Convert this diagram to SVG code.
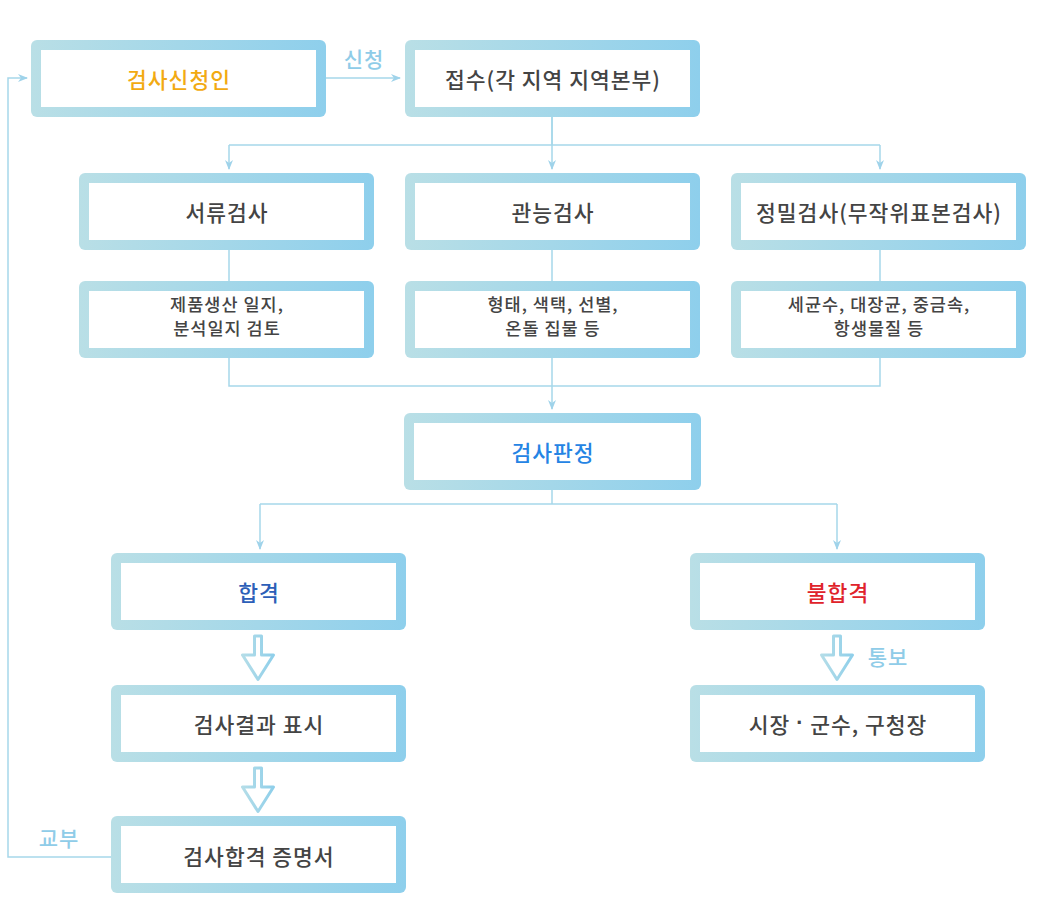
<svg xmlns="http://www.w3.org/2000/svg" width="1050" height="912" viewBox="0 0 1050 912">
<defs>
<linearGradient id="g" x1="0" y1="0" x2="1" y2="0">
<stop offset="0" stop-color="#b9dfe6"/>
<stop offset="1" stop-color="#8ecfec"/>
</linearGradient>
<linearGradient id="ga" x1="0" y1="0" x2="1" y2="0">
<stop offset="0" stop-color="#b4dde8"/>
<stop offset="1" stop-color="#8fcfea"/>
</linearGradient>
<marker id="ah" viewBox="0 0 10 10" refX="9" refY="5" markerWidth="10" markerHeight="10" markerUnits="userSpaceOnUse" orient="auto">
<path d="M0,1 L10,5 L0,9 L3,5 Z" fill="#9fd3ea"/>
</marker>
<style>
.ob{fill:url(#g)}
.ib{fill:#fff}
.t{font-family:"Noto Sans CJK KR","Noto Sans",sans-serif;font-size:21.5px;font-weight:500;fill:#444;text-anchor:middle;dominant-baseline:central;letter-spacing:1px}
.s{font-family:"Noto Sans CJK KR","Noto Sans",sans-serif;font-size:17.5px;font-weight:500;fill:#444;text-anchor:middle;letter-spacing:1px}
.lb{font-family:"Noto Sans CJK KR","Noto Sans",sans-serif;font-size:21px;font-weight:500;fill:#8fcce8;text-anchor:middle;dominant-baseline:central;letter-spacing:1px}
.c{fill:none;stroke:#a6d7ea;stroke-width:1.5}
.ha{fill:#fff;stroke:url(#ga);stroke-width:3;stroke-linejoin:round}
.dot{font-family:"Liberation Sans",sans-serif;font-weight:700}
</style>
</defs>

<g id="connectors">
<path class="c" d="M326,78 H400" marker-end="url(#ah)"/>
<path class="c" d="M552,117 V145 M229,145 H880"/>
<path class="c" d="M229,145 V169" marker-end="url(#ah)"/>
<path class="c" d="M552,117 V169" marker-end="url(#ah)"/>
<path class="c" d="M880,145 V169" marker-end="url(#ah)"/>
<path class="c" d="M229,250 V281 M552,250 V281 M880,250 V281"/>
<path class="c" d="M229,358 V386 H880 V358"/>
<path class="c" d="M552,358 V409" marker-end="url(#ah)"/>
<path class="c" d="M552,490 V504 M260,504 H837"/>
<path class="c" d="M260,504 V549" marker-end="url(#ah)"/>
<path class="c" d="M837,504 V549" marker-end="url(#ah)"/>
<path class="c" d="M111,857 H8 V78 H27" marker-end="url(#ah)"/>
<path class="ha" d="M254.5,636 H261.5 V655 H273.5 L258,679.5 L242.5,655 H254.5 Z"/>
<path class="ha" d="M254.5,768 H261.5 V787 H273.5 L258,811.5 L242.5,787 H254.5 Z"/>
<path class="ha" d="M833.5,636 H840.5 V655 H852.5 L837,679.5 L821.5,655 H833.5 Z"/>
<text class="lb" x="364" y="58">신청</text>
<text class="lb" x="888" y="656">통보</text>
<text class="lb" x="59" y="837">교부</text>
</g>

<g id="n-applicant">
<rect class="ob" x="31" y="40" width="295" height="77" rx="6"/>
<rect class="ib" x="41" y="50" width="275" height="57"/>
<text class="t" x="179" y="78" style="fill:#f2aa12">검사신청인</text>
</g>
<g id="n-receipt">
<rect class="ob" x="405" y="40" width="295" height="77" rx="6"/>
<rect class="ib" x="415" y="50" width="275" height="57"/>
<text class="t" x="553" y="78">접수(각 지역 지역본부)</text>
</g>
<g id="n-doc">
<rect class="ob" x="79" y="173" width="295" height="77" rx="6"/>
<rect class="ib" x="89" y="183" width="275" height="57"/>
<text class="t" x="227" y="211">서류검사</text>
</g>
<g id="n-sensory">
<rect class="ob" x="405" y="173" width="295" height="77" rx="6"/>
<rect class="ib" x="415" y="183" width="275" height="57"/>
<text class="t" x="553" y="211">관능검사</text>
</g>
<g id="n-precise">
<rect class="ob" x="731" y="173" width="295" height="77" rx="6"/>
<rect class="ib" x="741" y="183" width="275" height="57"/>
<text class="t" x="879" y="211">정밀검사(무작위표본검사)</text>
</g>
<g id="n-doc-sub">
<rect class="ob" x="79" y="281" width="295" height="77" rx="6"/>
<rect class="ib" x="89" y="291" width="275" height="57"/>
<text class="s" x="227" y="311">제품생산 일지,</text>
<text class="s" x="227" y="335">분석일지 검토</text>
</g>
<g id="n-sensory-sub">
<rect class="ob" x="405" y="281" width="295" height="77" rx="6"/>
<rect class="ib" x="415" y="291" width="275" height="57"/>
<text class="s" x="553" y="311">형태, 색택, 선별,</text>
<text class="s" x="553" y="335">온돌 집물 등</text>
</g>
<g id="n-precise-sub">
<rect class="ob" x="731" y="281" width="295" height="77" rx="6"/>
<rect class="ib" x="741" y="291" width="275" height="57"/>
<text class="s" x="879" y="311">세균수, 대장균, 중금속,</text>
<text class="s" x="879" y="335">항생물질 등</text>
</g>
<g id="n-judge">
<rect class="ob" x="404" y="413" width="297" height="77" rx="6"/>
<rect class="ib" x="414" y="423" width="277" height="57"/>
<text class="t" x="553" y="451" style="fill:#2584e4">검사판정</text>
</g>
<g id="n-pass">
<rect class="ob" x="111" y="553" width="295" height="77" rx="6"/>
<rect class="ib" x="121" y="563" width="275" height="57"/>
<text class="t" x="259" y="591" style="fill:#2d5fb8">합격</text>
</g>
<g id="n-fail">
<rect class="ob" x="690" y="553" width="295" height="77" rx="6"/>
<rect class="ib" x="700" y="563" width="275" height="57"/>
<text class="t" x="838" y="591" style="fill:#e0232b">불합격</text>
</g>
<g id="n-mark">
<rect class="ob" x="111" y="685" width="295" height="77" rx="6"/>
<rect class="ib" x="121" y="695" width="275" height="57"/>
<text class="t" x="259" y="723">검사결과 표시</text>
</g>
<g id="n-mayor">
<rect class="ob" x="690" y="685" width="295" height="77" rx="6"/>
<rect class="ib" x="700" y="695" width="275" height="57"/>
<text class="t" x="838" y="723">시장 <tspan class="dot">·</tspan> 군수, 구청장</text>
</g>
<g id="n-cert">
<rect class="ob" x="111" y="816" width="295" height="77" rx="6"/>
<rect class="ib" x="121" y="826" width="275" height="57"/>
<text class="t" x="259" y="855">검사합격 증명서</text>
</g>
</svg>
